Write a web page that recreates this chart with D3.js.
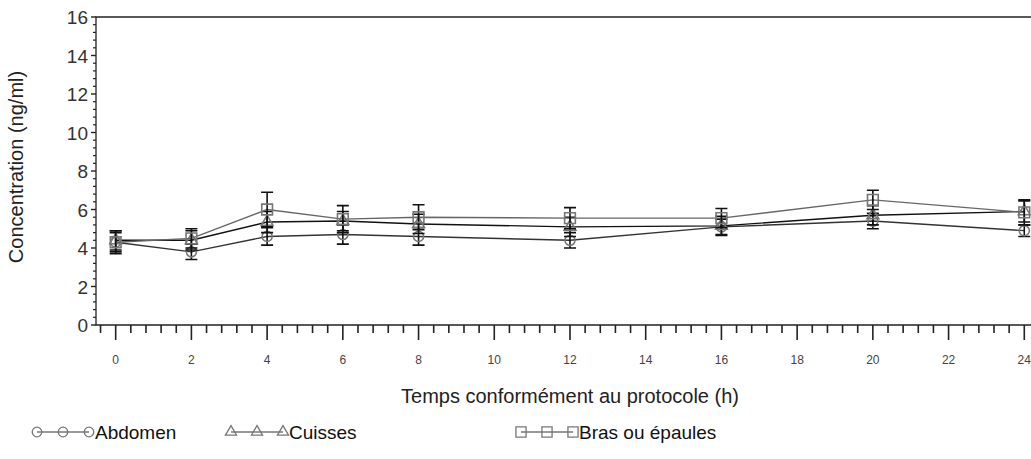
<!DOCTYPE html>
<html>
<head>
<meta charset="utf-8">
<script src="https://cdn.jsdelivr.net/npm/d3@7"></script>
<style>
  body { margin: 0; background: #fff; }
  svg { display: block; font-family: "Liberation Sans", Arial, sans-serif; }
</style>
</head>
<body>
<svg id="chart" width="1031" height="459"></svg>
<script>
// Data
const times = [0, 2, 4, 6, 8, 12, 16, 20, 24];
const abdomen = [4.3, 3.8, 4.6, 4.7, 4.6, 4.4, 5.1, 5.4, 4.9];
const abdomenSd = [0.5, 0.4, 0.45, 0.5, 0.45, 0.4, 0.4, 0.4, 0.3];
const cuisses = [4.4, 4.4, 5.35, 5.4, 5.25, 5.1, 5.15, 5.7, 5.9];
const cuissesSd = [0.5, 0.5, 0.55, 0.5, 0.5, 0.5, 0.5, 0.5, 0.55];
const bras = [4.3, 4.5, 6.0, 5.5, 5.6, 5.55, 5.55, 6.5, 5.85];
const brasSd = [0.6, 0.5, 0.9, 0.7, 0.65, 0.55, 0.5, 0.5, 0.65];
const xTicks = [0, 2, 4, 6, 8, 10, 12, 14, 16, 18, 20, 22, 24];
const yTicks = [0, 2, 4, 6, 8, 10, 12, 14, 16];

const series = [
  { name: 'Abdomen', values: abdomen, sd: abdomenSd, symbol: d3.symbolCircle, size: 80, line: '#333' },
  { name: 'Cuisses', values: cuisses, sd: cuissesSd, symbol: d3.symbolTriangle, size: 60, line: '#111' },
  { name: 'Bras ou épaules', values: bras, sd: brasSd, symbol: d3.symbolSquare, size: 115, line: '#666' }
];

const svg = d3.select('#chart');
const x = d3.scaleLinear().domain([-0.52, 24.6]).range([96, 1047]);
const y = d3.scaleLinear().domain([0, 16]).range([325, 17]);

// frame (top + left + bottom; right edge falls outside the picture)
svg.append('path')
  .attr('d', `M${x(24.6)},${y(16)}H${x(-0.52)}V${y(0)}H${x(24.6)}`)
  .attr('fill', 'none').attr('stroke', '#222').attr('stroke-width', 1.3);

// x ticks
const xMinor = d3.range(-0.4, 24.5, 0.4).filter(v => Math.abs(v / 2 - Math.round(v / 2)) > 0.01);
svg.append('g').selectAll('line').data(xMinor).join('line')
  .attr('x1', d => x(d)).attr('x2', d => x(d))
  .attr('y1', y(0)).attr('y2', y(0) + 8)
  .attr('stroke', '#222').attr('stroke-width', 1.6);
svg.append('g').selectAll('line').data(xTicks).join('line')
  .attr('x1', d => x(d)).attr('x2', d => x(d))
  .attr('y1', y(0)).attr('y2', y(0) + 15)
  .attr('stroke', '#222').attr('stroke-width', 1.6);
svg.append('g').selectAll('text').data(xTicks).join('text')
  .attr('x', d => x(d)).attr('y', 364)
  .attr('text-anchor', 'middle')
  .style('font-size', '12px').style('fill', '#444')
  .text(d => d);

// y ticks
const yMinor = d3.range(0.4, 16, 0.4).filter(v => Math.abs(v / 2 - Math.round(v / 2)) > 0.01);
svg.append('g').selectAll('line').data(yMinor).join('line')
  .attr('x1', x(-0.52)).attr('x2', x(-0.52) - 3)
  .attr('y1', d => y(d)).attr('y2', d => y(d))
  .attr('stroke', '#222').attr('stroke-width', 1.2);
svg.append('g').selectAll('line').data(yTicks).join('line')
  .attr('x1', x(-0.52)).attr('x2', x(-0.52) - 5)
  .attr('y1', d => y(d)).attr('y2', d => y(d))
  .attr('stroke', '#222').attr('stroke-width', 1.4);
svg.append('g').selectAll('text').data(yTicks).join('text')
  .attr('x', 88).attr('y', d => y(d) + 7)
  .attr('text-anchor', 'end')
  .style('font-size', '19px').style('fill', '#333')
  .text(d => d);

// axis titles
svg.append('text')
  .attr('transform', 'translate(23,167) rotate(-90)')
  .attr('text-anchor', 'middle')
  .style('font-size', '20px').style('fill', '#222')
  .text('Concentration (ng/ml)');
svg.append('text')
  .attr('x', 570).attr('y', 403)
  .attr('text-anchor', 'middle')
  .style('font-size', '20px').style('fill', '#222')
  .text('Temps conformément au protocole (h)');

// series
const line = d3.line().x((d, i) => x(times[i])).y(d => y(d));
series.forEach(s => {
  const g = svg.append('g');
  g.append('path').datum(s.values)
    .attr('d', line).attr('fill', 'none')
    .attr('stroke', s.line).attr('stroke-width', 1.4);
  // error bars
  s.values.forEach((v, i) => {
    const cx = x(times[i]);
    const top = y(v + s.sd[i]), bot = y(v - s.sd[i]);
    g.append('path')
      .attr('d', `M${cx},${top}V${bot}M${cx - 6},${top}H${cx + 6}M${cx - 6},${bot}H${cx + 6}`)
      .attr('stroke', '#111').attr('stroke-width', 1.6).attr('fill', 'none');
  });
  g.selectAll('path.marker').data(s.values).join('path')
    .attr('class', 'marker')
    .attr('transform', (d, i) => `translate(${x(times[i])},${y(d)})`)
    .attr('d', d3.symbol().type(s.symbol).size(s.size))
    .attr('fill', 'none').attr('stroke', '#777').attr('stroke-width', 1.6);
});

// legend
const legendX = [37, 231, 521];
series.forEach((s, k) => {
  const g = svg.append('g').attr('transform', `translate(${legendX[k]},432)`);
  g.append('line').attr('x1', 0).attr('x2', 52).attr('y1', 0).attr('y2', 0)
    .attr('stroke', '#999').attr('stroke-width', 1.8);
  [0, 26, 52].forEach(dx => {
    g.append('path').attr('transform', `translate(${dx},0)`)
      .attr('d', d3.symbol().type(s.symbol).size(s.size * 0.9))
      .attr('fill', 'none').attr('stroke', '#777').attr('stroke-width', 1.3);
  });
  g.append('text').attr('x', 58).attr('y', 7)
    .style('font-size', '19px').style('fill', '#111')
    .text(s.name);
});
</script>
</body>
</html>
